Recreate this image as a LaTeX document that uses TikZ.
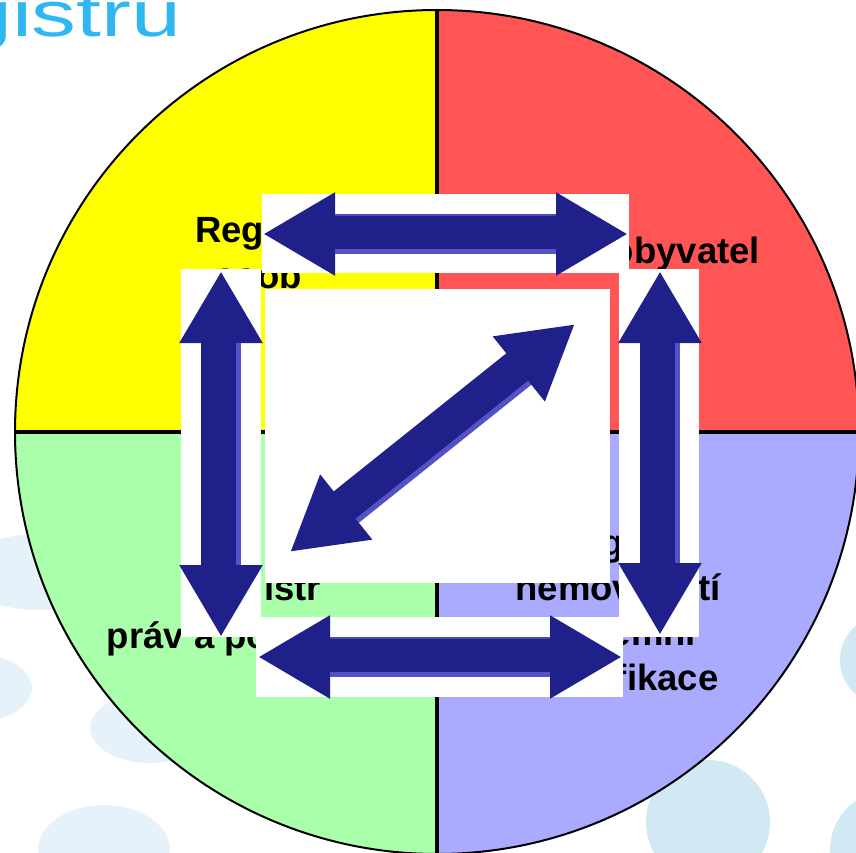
\documentclass[tikz,border=0pt]{standalone}
\usepackage{graphicx}
\usepackage{fontspec}
\setmainfont{Liberation Sans}
\usetikzlibrary{arrows.meta,calc}
\definecolor{quadY}{RGB}{255,255,0}
\definecolor{quadR}{RGB}{255,85,85}
\definecolor{quadG}{RGB}{170,255,170}
\definecolor{quadB}{RGB}{170,170,255}
\definecolor{navy}{RGB}{32,32,138}
\definecolor{navyhl}{RGB}{92,92,210}
\definecolor{titlecol}{RGB}{46,183,240}
\definecolor{dotA}{RGB}{230,242,249}
\definecolor{dotB}{RGB}{208,233,242}
\begin{document}
\begin{tikzpicture}[x=1pt,y=-1pt,
  lbl/.style={font=\bfseries\fontsize{36.5}{44}\selectfont, inner sep=0pt, anchor=base},
  whitebox/.style={fill=white},
  dblarrow/.style={line width=40pt, draw=navy, fill=navy,
     {Triangle[length=72pt,width=78pt]}-{Triangle[length=72pt,width=78pt]}},
  shine/.style={line width=5pt, draw=navyhl, opacity=0.85, shorten <=72pt, shorten >=72pt},
  thinshine/.style={line width=2pt, draw=navyhl, opacity=0.7, shorten <=72pt, shorten >=72pt}
]
\useasboundingbox (0,0) rectangle (856,853);
\clip (0,0) rectangle (856,853);

% background dots
\fill[dotA] (40,572) ellipse [x radius=80, y radius=38];
\fill[dotA] (-30,688) ellipse [x radius=62, y radius=35];
\fill[dotA] (150,728) ellipse [x radius=60, y radius=35];
\fill[dotA] (104,850) ellipse [x radius=66, y radius=45];
\fill[dotB] (708,822) circle [radius=62];
\fill[dotB] (890,850) circle [radius=60];
\fill[dotB] (885,660) circle [radius=45];

% title fragment
\node[anchor=base west, inner sep=0pt, text=titlecol,
      font=\fontsize{64}{72}\selectfont] (title) at (-38,37) {\scalebox{1.4}[1]{gistru}};

% circle with quadrants
\coordinate (c) at (437,432);
\begin{scope}
  \clip (c) circle [radius=422];
  \fill[quadY] (0,0) rectangle (437,432);
  \fill[quadR] (437,0) rectangle (860,432);
  \fill[quadG] (0,432) rectangle (437,860);
  \fill[quadB] (437,432) rectangle (860,860);
  \draw[line width=3.5pt] (437,0) -- (437,860);
  \draw[line width=3.5pt] (0,432) -- (860,432);
\end{scope}
\draw[line width=2pt] (c) circle [radius=422];

% labels
\node[lbl] (tl1) at (258,242) {Registr};
\node[lbl] (tl2) at (258,288) {osob};
\node[lbl] (tr1) at (618,263) {Registr obyvatel};
\node[lbl] (bl1) at (258,600) {Registr};
\node[lbl] (bl2) at (258,648) {práv a povinností};
\node[lbl] (br1) at (618,555) {Registr};
\node[lbl] (br2) at (618,600) {nemovitostí};
\node[lbl] (br3) at (618,645) {a územní};
\node[lbl] (br4) at (618,690) {identifikace};

% white panels
\fill[whitebox] (262,194) rectangle (629,273);
\fill[whitebox] (181,269) rectangle (261,637);
\fill[whitebox] (619,269) rectangle (699,637);
\fill[whitebox] (256,617) rectangle (623,697);
\fill[whitebox] (265,289) rectangle (610,583);

% arrow end points
\coordinate (tA) at (263,234); \coordinate (tB) at (628,234);
\coordinate (lA) at (221,271); \coordinate (lB) at (221,637);
\coordinate (rA) at (660,271); \coordinate (rB) at (660,635);
\coordinate (bA) at (258,657); \coordinate (bB) at (622,657);
\coordinate (dA) at (290,552); \coordinate (dB) at (575,324);

% arrows
\draw[dblarrow] (tA) -- (tB);
\draw[dblarrow] (lA) -- (lB);
\draw[dblarrow] (rA) -- (rB);
\draw[dblarrow] (bA) -- (bB);
\draw[dblarrow] (dA) -- (dB);

% bevel highlights
\draw[thinshine, transform canvas={yshift=19pt}] (tA) -- (tB);
\draw[shine, transform canvas={yshift=-17.5pt}] (tA) -- (tB);
\draw[thinshine, transform canvas={yshift=19pt}] (bA) -- (bB);
\draw[shine, transform canvas={yshift=-17.5pt}] (bA) -- (bB);
\draw[shine, transform canvas={xshift=17.5pt}] (lA) -- (lB);
\draw[shine, transform canvas={xshift=17.5pt}] (rA) -- (rB);
\draw[shine, transform canvas={shift={(10.9pt,-13.7pt)}}] (dA) -- (dB);
\end{tikzpicture}
\end{document}
